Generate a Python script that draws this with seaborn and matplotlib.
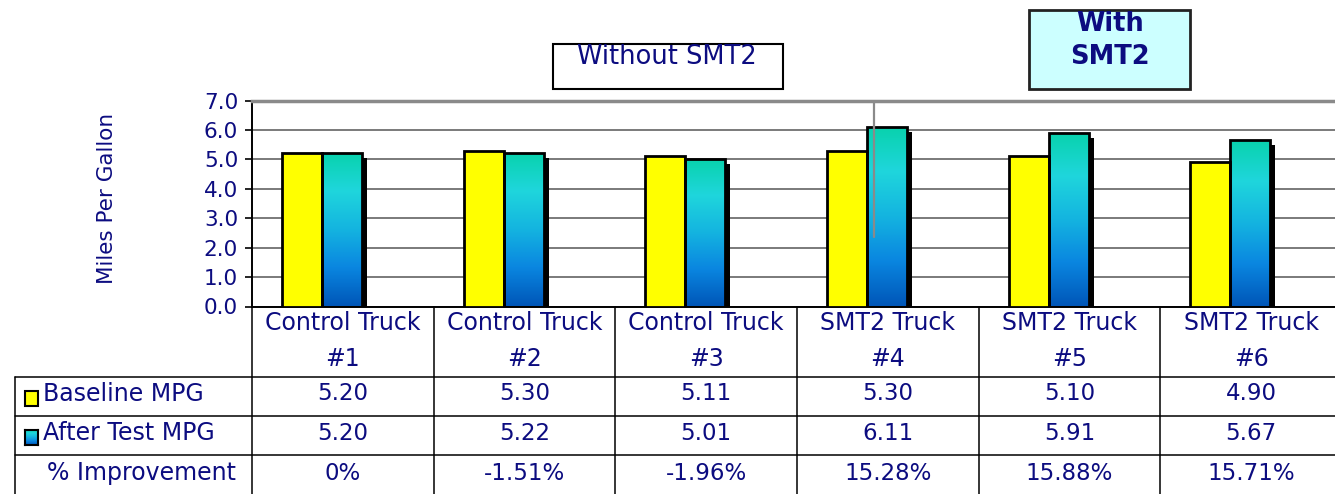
import numpy as np
import pandas as pd
import seaborn as sns
import matplotlib.pyplot as plt
from matplotlib.patches import Rectangle
from matplotlib.lines import Line2D
from matplotlib.colors import LinearSegmentedColormap
import matplotlib.transforms as mtransforms

sns.set_style("white")
plt.rcParams['font.family'] = ['DejaVu Sans']

# data
trucks = ["Control Truck\n#1", "Control Truck\n#2", "Control Truck\n#3",
          "SMT2 Truck\n#4", "SMT2 Truck\n#5", "SMT2 Truck\n#6"]
baseline = [5.20, 5.30, 5.11, 5.30, 5.10, 4.90]
after_test = [5.20, 5.22, 5.01, 6.11, 5.91, 5.67]
improvement = ["0%", "-1.51%", "-1.96%", "15.28%", "15.88%", "15.71%"]
row_names = ["Baseline MPG", "After Test MPG", "% Improvement"]
yticks = [0, 1, 2, 3, 4, 5, 6, 7]

navy = "#0c0c80"
yellow = "#ffff00"
grad = LinearSegmentedColormap.from_list(
    "aft", ["#0056b8", "#0a86e0", "#14b4e0", "#1fd6dc", "#08d2ac"])

df = pd.DataFrame({
    "truck": trucks * 2,
    "series": ["Baseline MPG"] * 6 + ["After Test MPG"] * 6,
    "mpg": baseline + after_test,
})

W, H = 1335, 494
fig = plt.figure(figsize=(W / 100, H / 100), dpi=100)

def fx(px):
    return px / W

def fy(py):
    return 1 - py / H

# axes: left at 252 px, 181.7 px per category, 7.0 at y=100.5, 0.0 at y=306.5
ax_left, ax_right = 252, 1342
ax = fig.add_axes([fx(ax_left), fy(306.5), (ax_right - ax_left) / W, (306.5 - 100.5) / H])

sns.barplot(data=df, x="truck", y="mpg", hue="series",
            hue_order=["Baseline MPG", "After Test MPG"],
            palette={"Baseline MPG": yellow, "After Test MPG": "#14b4e0"},
            saturation=1, width=0.44, edgecolor="black", linewidth=2.0,
            legend=False, zorder=3, ax=ax)

col_off = 0.115   # group centre sits left of the table column centre
xlo = -0.5 + col_off

dx = 0.028
dy = 0.17
for cont_i, cont in enumerate(ax.containers):
    for p in cont.patches:
        x0, y0 = p.get_x(), p.get_y()
        w, h = p.get_width(), p.get_height()
        ax.add_patch(Rectangle((x0 + dx, y0 - dy), w, h, facecolor="black",
                               edgecolor="none", zorder=2.5))
        p.set_zorder(3.2)
        if cont_i == 1:
            p.set_facecolor("none")
            img = ax.imshow(np.linspace(0, 1, 256).reshape(-1, 1), cmap=grad,
                            extent=[x0, x0 + w, y0, y0 + h], origin="lower",
                            aspect="auto", zorder=3.0)
            img.set_clip_path(p)

ax.set_xlim(xlo, xlo + 6)
ax.set_ylim(0, 7)
ax.set_yticks(yticks)
ax.set_yticklabels([f"{v:.1f}" for v in yticks])
ax.set_xticks([])
ax.set_xlabel("")
ax.set_ylabel("")
ax.tick_params(axis="y", colors="black", labelcolor=navy, labelsize=15.5,
               length=5, width=1.2, pad=5, left=True)
ax.yaxis.grid(True, color="#7a7a7a", linewidth=1.4, zorder=0.5)
ax.set_axisbelow(True)
ax.spines["right"].set_visible(False)
ax.spines["left"].set_color("black")
ax.spines["left"].set_linewidth(1.4)
ax.spines["bottom"].set_color("black")
ax.spines["bottom"].set_linewidth(1.4)
ax.spines["top"].set_color("#8a8a8a")
ax.spines["top"].set_linewidth(2.5)

# separator between the two groups
ax.plot([3.04, 3.04], [2.35, 7], color="#8a8a8a", linewidth=1.6, zorder=4)

fig.text(fx(107), fy(198), "Miles Per Gallon", rotation=90, color=navy,
         fontsize=15.5, ha="center", va="center")

# header boxes
fig.add_artist(Rectangle((fx(553), fy(89)), fx(783 - 553), (89 - 44) / H,
                         facecolor="white", edgecolor="black", linewidth=1.5,
                         transform=fig.transFigure))
fig.text(fx(667), fy(57), "Without SMT2", color=navy, fontsize=18.5,
         ha="center", va="center")
fig.add_artist(Rectangle((fx(1029), fy(89)), fx(1190 - 1029), (89 - 10) / H,
                         facecolor="#ccffff", edgecolor="#222222", linewidth=2,
                         transform=fig.transFigure))
fig.text(fx(1110), fy(24), "With", color=navy, fontsize=18.5, fontweight="bold",
         ha="center", va="center")
fig.text(fx(1110), fy(57), "SMT2", color=navy, fontsize=18.5, fontweight="bold",
         ha="center", va="center")

# data table under the chart
bt = mtransforms.blended_transform_factory(ax.transData, fig.transFigure)
centers = np.arange(len(trucks)) + col_off
for i in range(len(trucks) + 1):
    xb = xlo + i
    fig.add_artist(Line2D([xb, xb], [fy(306.5), fy(494)], color="black",
                          linewidth=1.1, transform=bt))
fig.add_artist(Line2D([fx(15), fx(15)], [fy(377), fy(494)], color="black",
                      linewidth=1.1, transform=fig.transFigure))
for yl in [377, 416, 455]:
    fig.add_artist(Line2D([fx(15), 1], [fy(yl), fy(yl)], color="black",
                          linewidth=1.1, transform=fig.transFigure))

for c, lab in zip(centers, trucks):
    fig.text(c, fy(341), lab, transform=bt, color=navy, fontsize=17,
             ha="center", va="center", linespacing=1.65)

row_y = [394, 433, 473]
rows = [[f"{v:.2f}" for v in baseline], [f"{v:.2f}" for v in after_test], improvement]
for ry, vals in zip(row_y, rows):
    for c, v in zip(centers, vals):
        fig.text(c, fy(ry), v, transform=bt, color=navy, fontsize=16.5,
                 ha="center", va="center")

# row labels with legend keys
fig.add_artist(Rectangle((fx(25), fy(406)), fx(13), 15 / H, facecolor=yellow,
                         edgecolor="black", linewidth=1.5, transform=fig.transFigure))
kax = fig.add_axes([fx(25), fy(445), fx(13), 15 / H])
kax.imshow(np.linspace(0, 1, 64).reshape(-1, 1), cmap=grad, origin="lower",
           aspect="auto")
kax.set_xticks([])
kax.set_yticks([])
for s in kax.spines.values():
    s.set_linewidth(1.5)
    s.set_color("black")

fig.text(fx(43), fy(row_y[0]), row_names[0], color=navy, fontsize=17, va="center")
fig.text(fx(43), fy(row_y[1]), row_names[1], color=navy, fontsize=17, va="center")
fig.text(fx(47), fy(row_y[2]), row_names[2], color=navy, fontsize=17, va="center")

fig.savefig("out.png", dpi=100)
